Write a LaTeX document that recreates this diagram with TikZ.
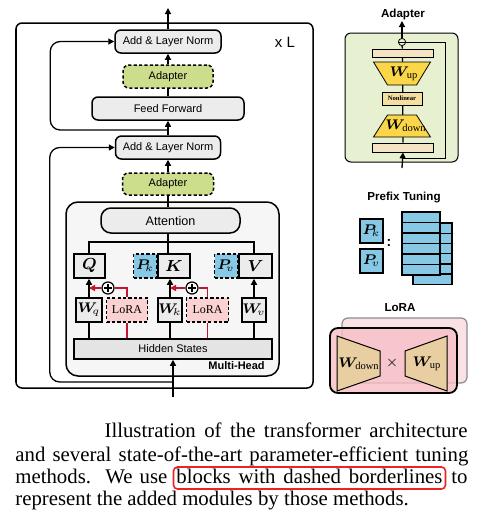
\documentclass[tikz,border=0pt]{standalone}
\usepackage{fontspec}
\setmainfont{Liberation Serif}
\setsansfont{Liberation Sans}
\usepackage{amsmath,bm}
\usetikzlibrary{arrows.meta, positioning, calc}

\definecolor{boxgray}{RGB}{236,236,236}
\definecolor{hsgray}{RGB}{228,228,228}
\definecolor{mhgray}{RGB}{246,246,246}
\definecolor{adgreen}{RGB}{204,222,140}
\definecolor{pblue}{RGB}{135,200,228}
\definecolor{lpink}{RGB}{250,210,210}
\definecolor{lred}{RGB}{196,20,50}
\definecolor{panelgreen}{RGB}{232,240,210}
\definecolor{barwheat}{RGB}{245,228,196}
\definecolor{trapyellow}{RGB}{250,214,72}
\definecolor{nlwheat}{RGB}{244,222,160}
\definecolor{traptan}{RGB}{232,206,160}
\definecolor{loraback}{RGB}{250,226,228}
\definecolor{lorafront}{RGB}{247,190,198}
\definecolor{hlred}{RGB}{235,35,35}

\begin{document}
\begin{tikzpicture}[
    x=0.5pt, y=-0.5pt,
    font=\sffamily\fontsize{5.5}{6.5}\selectfont,
    frame/.style={draw=black, line width=0.75pt, rounded corners=3pt, inner sep=0pt},
    gbox/.style={draw=black, line width=0.75pt, rounded corners=3pt, fill=boxgray,
                 minimum height=11.5pt, inner sep=0pt},
    abox/.style={draw=black, line width=0.75pt, dash pattern=on 1.6pt off 1.1pt,
                 rounded corners=3pt, fill=adgreen, minimum height=11.5pt, inner sep=0pt},
    mbox/.style={draw=black, line width=0.75pt, fill=boxgray, minimum height=12pt,
                 inner sep=0pt, font=\fontsize{8}{9}\selectfont},
    pbox/.style={draw=black, line width=0.75pt, dash pattern=on 1.6pt off 1.1pt, fill=pblue,
                 minimum width=11.5pt, minimum height=12pt, inner sep=0pt,
                 font=\fontsize{7.5}{8}\selectfont},
    wbox/.style={draw=black, line width=0.75pt, fill=boxgray, minimum height=12pt,
                 inner sep=0pt, font=\fontsize{7}{8}\selectfont},
    lbox/.style={draw=black, line width=0.75pt, dash pattern=on 1.6pt off 1.1pt, fill=lpink,
                 minimum height=12pt, inner sep=0pt, font=\rmfamily\fontsize{6}{7}\selectfont},
    plus/.style={circle, draw=black, line width=0.6pt, fill=white, minimum size=6pt, inner sep=0pt,
                 path picture={\draw[line width=0.6pt]
                   ([xshift=-2pt]path picture bounding box.center) -- ([xshift=2pt]path picture bounding box.center)
                   ([yshift=-2pt]path picture bounding box.center) -- ([yshift=2pt]path picture bounding box.center);}},
    fl/.style={-{Triangle[length=3pt, width=3pt]}, line width=0.65pt},
    ln/.style={line width=0.65pt},
    rl/.style={line width=0.65pt, draw=lred},
    ttl/.style={font=\sffamily\bfseries\fontsize{5.8}{7}\selectfont},
    bar/.style={draw=black, line width=0.4pt, fill=barwheat, minimum width=30.5pt, inner sep=0pt},
    trapU/.style={draw=black, line width=0.4pt, fill=trapyellow},
    trapL/.style={draw=black, line width=0.5pt, fill=traptan},
    wlab/.style={inner sep=0pt, font=\fontsize{7.5}{8}\selectfont},
    sheet/.style={draw=black, line width=0.7pt, fill=pblue},
    captxt/.style={font=\rmfamily\fontsize{10.4}{12}\selectfont, inner sep=0pt}
  ]
    \useasboundingbox (0,0) rectangle (504,521);
    % ---- transformer block ----
    \node[frame, minimum width=148.5pt, minimum height=182.5pt] (blk) at (164.5,205.5) {};
    \node[font=\sffamily\fontsize{7.5}{8}\selectfont] (xl) at (285,42) {x L};
    \node[gbox, minimum width=53pt] (ln1) at (168,41.5) {Add \& Layer Norm};
    \node[abox, minimum width=45pt] (ad1) at (168,76.5) {Adapter};
    \node[gbox, minimum width=76pt] (ff) at (168,108.5) {Feed Forward};
    \node[gbox, minimum width=52.5pt] (ln2) at (168,147.5) {Add \& Layer Norm};
    \node[abox, minimum width=45.5pt, minimum height=11pt] (ad2) at (168,184) {Adapter};
    % ---- multi-head attention ----
    \node[frame, fill=mhgray, rounded corners=6pt, minimum width=106.5pt, minimum height=87pt]
      (mh) at (172.5,289) {};
    \node[anchor=south east, font=\sffamily\bfseries\fontsize{5.5}{6.5}\selectfont]
      (mhlab) at ([xshift=-4pt, yshift=0pt]mh.south east) {Multi-Head};
    \node[gbox, rounded corners=5pt, minimum width=69.5pt, minimum height=12.5pt,
          font=\sffamily\fontsize{6.3}{7}\selectfont] (att) at (170.5,220.5) {Attention};
    \node[mbox, minimum width=15.5pt] (q) at (89.5,266) {$\bm{Q}$};
    \node[mbox, minimum width=16pt] (k) at (174,266) {$\bm{K}$};
    \node[mbox, minimum width=16.5pt] (v) at (255.5,266) {$\bm{V}$};
    \node[pbox, left=0pt of k] (pk) {$\bm{P}_{\!k}$};
    \node[pbox, left=0pt of v] (pv) {$\bm{P}_{\!v}$};
    \node[wbox, minimum width=13pt] (wq) at (89,310) {$\bm{W}_{\!q}$};
    \node[lbox, minimum width=20.5pt, right=1.5pt of wq] (lora1) {LoRA};
    \node[wbox, minimum width=12pt] (wk) at (170,310) {$\bm{W}_{\!k}$};
    \node[lbox, minimum width=21pt, right=1.5pt of wk] (lora2) {LoRA};
    \node[wbox, minimum width=12pt] (wv) at (254,310) {$\bm{W}_{\!v}$};
    \node[plus] (pl1) at (108,288) {};
    \node[plus] (pl2) at (192,288) {};
    \node[gbox, rounded corners=0pt, fill=hsgray, minimum width=99pt, minimum height=10pt]
      (hs) at (173,349) {Hidden States};
    % ---- connectors ----
    \coordinate (out) at (168,8);
    \coordinate (in) at (173,397);
    \coordinate (r1) at (168,130);
    \coordinate (r2) at (173,382);
    \coordinate (bus) at (168,242);
    \draw[fl] (ln1.north) -- (out);
    \draw[fl] (ad1.north) -- (ln1.south);
    \draw[ln] (ff.north) -- (ad1.south);
    \draw[fl] (ln2.north) -- (ff.south);
    \draw[fl] (ad2.north) -- (ln2.south);
    \draw[ln] (att.north -| ad2.south) -- (ad2.south);
    \draw[fl, rounded corners=5pt] (r1) -| ([xshift=-32pt]ln1.west) -- (ln1.west);
    \draw[fl, rounded corners=5pt] (r2) -| ([xshift=-32.5pt]ln2.west) -- (ln2.west);
    \draw[fl] (in) -- (hs.south);
    \draw[ln] (att.south -| bus) -- (k.north -| bus);
    \draw[ln] (q.north -| wq) |- (bus) -| (v.north -| wv);
    \draw[fl] (wq.north) -- (q.south -| wq.north);
    \draw[fl] (wk.north) -- (k.south -| wk.north);
    \draw[fl] (wv.north) -- (v.south -| wv.north);
    \draw[ln] (wq.south) -- (hs.north -| wq.south);
    \draw[ln] (wk.south) -- (hs.north -| wk.south);
    \draw[ln] (wv.south) -- (hs.north -| wv.south);
    \draw[rl] (lora1.south) -- (hs.north -| lora1.south);
    \draw[rl] (lora2.south) -- (hs.north -| lora2.south);
    \draw[rl] (lora1.north) |- (pl1.east);
    \draw[rl] (lora2.north) |- (pl2.east);
    \draw[rl, -{Triangle[length=3pt, width=3pt]}] (pl1.west) -- (pl1.west -| wq.north);
    \draw[rl, -{Triangle[length=3pt, width=3pt]}] (pl2.west) -- (pl2.west -| wk.north);
    % ---- adapter ----
    \node[ttl] (adtitle) at (403,14) {Adapter};
    \node[frame, fill=panelgreen, line width=0.5pt, minimum width=56.5pt, minimum height=64.5pt]
      (adp) at (401.5,97.5) {};
    \coordinate (aout) at (402,21);
    \coordinate (ain) at (402,168);
    \coordinate (askip) at (402,158);
    \coordinate (wupc) at (402,73.5);
    \coordinate (wdnc) at (402,126);
    \node[bar, minimum height=4pt] (bar1) at (402.5,53) {};
    \node[bar, minimum height=4.5pt] (bar2) at (403,147.5) {};
    \node[circle, draw=black, line width=0.4pt, fill=panelgreen, minimum size=3.6pt, inner sep=0pt,
          path picture={\draw[line width=0.3pt] (path picture bounding box.west) -- (path picture bounding box.east);}]
      (sum) at (402,42) {};
    \draw[ln] (bar2.north) -- (bar1.south);
    \filldraw[trapU] ($(wupc)+(-28.5,-11.5)$) -- ($(wupc)+(28.5,-11.5)$)
      -- ($(wupc)+(14.5,11.5)$) -- ($(wupc)+(-14.5,11.5)$) -- cycle;
    \filldraw[trapU] ($(wdnc)+(-14.5,-11)$) -- ($(wdnc)+(14.5,-11)$)
      -- ($(wdnc)+(28.5,11)$) -- ($(wdnc)+(-28.5,11)$) -- cycle;
    \node[wlab] (wup) at ([xshift=1pt]wupc) {$\bm{W}_{\mathrm{up}}$};
    \node[wlab] (wdn) at ([xshift=2pt]wdnc) {$\bm{W}_{\mathrm{down}}$};
    \node[draw=black, line width=0.4pt, fill=nlwheat, minimum width=20pt, minimum height=6.5pt, inner sep=0pt,
          font=\rmfamily\bfseries\fontsize{3.3}{4}\selectfont] (nl) at (402,98.5) {Nonlinear};
    \draw[ln] (bar1.north) -- (sum.south);
    \draw[fl] (sum.north) -- (aout);
    \draw[fl] (ain) -- (bar2.south);
    \draw[ln, line width=0.5pt] (askip) -| ([xshift=19.75pt]sum.east) -- (sum.east);
    % ---- prefix tuning ----
    \node[ttl] (pttitle) at (404,198) {Prefix Tuning};
    \node[pbox, solid, line width=1pt] (pk2) at (371.5,231) {$\bm{P}_{\!k}$};
    \node[pbox, solid, line width=1pt] (pv2) at (371.5,261) {$\bm{P}_{\!v}$};
    \node[font=\sffamily\bfseries\fontsize{7}{8}\selectfont] (colon) at (389,243) {:};
    \foreach \i in {0,...,5}
      \draw[sheet] (413,223+10.2*\i) rectangle ++(39,10.2);
    \foreach \i in {0,...,5}
      \draw[sheet] (402,212+10.5*\i) rectangle ++(38,10.5);
    % ---- lora ----
    \node[ttl] (lrtitle) at (400,308) {LoRA};
    \draw[draw=black!45, line width=0.6pt, fill=loraback, rounded corners=3pt] (342,318) rectangle (467,383);
    \draw[draw=black, line width=0.9pt, fill=lorafront, fill opacity=0.8, rounded corners=4pt]
      (330,328) rectangle (457,393);
    \filldraw[trapL] (337,336) -- (380,351) -- (380,376) -- (337,391) -- cycle;
    \filldraw[trapL] (405,351) -- (447,336) -- (447,391) -- (405,376) -- cycle;
    \node[wlab] (lwdn) at (359,364) {$\bm{W}_{\mathrm{down}}$};
    \node[wlab, font=\fontsize{7}{8}\selectfont] (ltimes) at (392,363) {$\times$};
    \node[wlab] (lwup) at (427,364) {$\bm{W}_{\mathrm{up}}$};
    % ---- caption ----
    \node[captxt, anchor=base east] (c1) at (468,437)
      {\makebox[181.5pt][s]{Illustration of the transformer architecture}};
    \node[captxt, anchor=base west] (c2) at (15,461)
      {\makebox[226.5pt][s]{and several state-of-the-art parameter-efficient tuning}};
    \node[captxt, anchor=base west] (c3a) at (15,483) {\makebox[76pt][s]{methods.\ \ We use}};
    \node[captxt, anchor=base, draw=hlred, line width=0.8pt, rounded corners=2pt, inner xsep=1.5pt,
          inner ysep=1pt, text height=7pt, text depth=2pt] (hl) at (309.5,483)
      {\makebox[133pt][s]{blocks with dashed borderlines}};
    \node[captxt, anchor=base east] (c3b) at (468,483) {to};
    \node[captxt, anchor=base west] (c4) at (15,505) {represent the added modules by those methods.};
  \end{tikzpicture}
\end{document}
